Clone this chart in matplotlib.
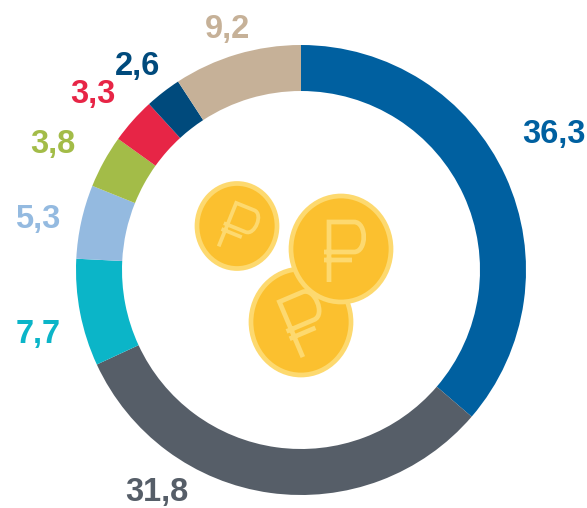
import matplotlib
matplotlib.use("Agg")
import matplotlib.pyplot as plt
from matplotlib.patches import Ellipse, PathPatch
from matplotlib.path import Path
from matplotlib.transforms import Affine2D

values = [36.3, 31.8, 7.7, 5.3, 3.8, 3.3, 2.6, 9.2]
labels = ["36,3", "31,8", "7,7", "5,3", "3,8", "3,3", "2,6", "9,2"]
colors = ["#0060A0", "#565E68", "#0BB5C8", "#94BAE0", "#A3BC48", "#E72546", "#004A7C", "#C6B198"]
# label centre x and baseline y in pixels
label_px = [(554, 143), (157, 501), (38, 343), (38, 228), (53, 153), (93, 103), (138, 75), (227, 38)]
# coins: centre x, centre y, width, height, rotation of the glyph in degrees, glyph scale
coins = [(237, 226, 80, 85, 22, 0.78), (301, 322, 100, 106, -23, 1.0), (341, 249, 100, 106, 0, 1.0)]
W, H = 587, 508
cx, cy, r_out, r_in = 301, 270, 225, 179

fig = plt.figure(figsize=(W / 100, H / 100), dpi=100)
ax = fig.add_axes([0, 0, 1, 1])

# y axis is inverted, so angles run clockwise on screen when counterclock is True
ax.pie(values, colors=colors, center=(cx, cy), radius=r_out, startangle=-90, counterclock=True,
       wedgeprops=dict(width=r_out - r_in, linewidth=0), frame=False)
ax.set_xlim(0, W)
ax.set_ylim(H, 0)
ax.set_aspect("equal")
ax.axis("off")

for (x, y), lab, col in zip(label_px, labels, colors):
    ax.text(x, y, lab, color=col, fontsize=23.5, fontweight="bold", family="Liberation Sans",
            ha="center", va="baseline")

# ruble sign around the coin centre, y pointing down as on screen
glyph_verts = [(-12, 33), (-12, -27), (13, -27), (26, -27), (26, 3), (13, 3), (-17, 3),
               (-17, 11), (11, 11)]
glyph_codes = [Path.MOVETO, Path.LINETO, Path.LINETO, Path.CURVE4, Path.CURVE4, Path.CURVE4,
               Path.LINETO, Path.MOVETO, Path.LINETO]
glyph = Path(glyph_verts, glyph_codes)


def draw_coin(x, y, w, h, rot, scale):
    ax.add_patch(Ellipse((x, y), w, h, fc="#FBC02F", ec="#FDD96F", lw=3.4, zorder=3))
    tr = Affine2D().scale(scale).rotate_deg(rot).translate(x, y) + ax.transData
    ax.add_patch(PathPatch(glyph, fc="none", ec="#FDD96F", lw=3.0 * scale + 0.4, transform=tr,
                           capstyle="butt", joinstyle="miter", zorder=4))


for coin in coins:
    draw_coin(*coin)

fig.savefig("out.png", dpi=100)
